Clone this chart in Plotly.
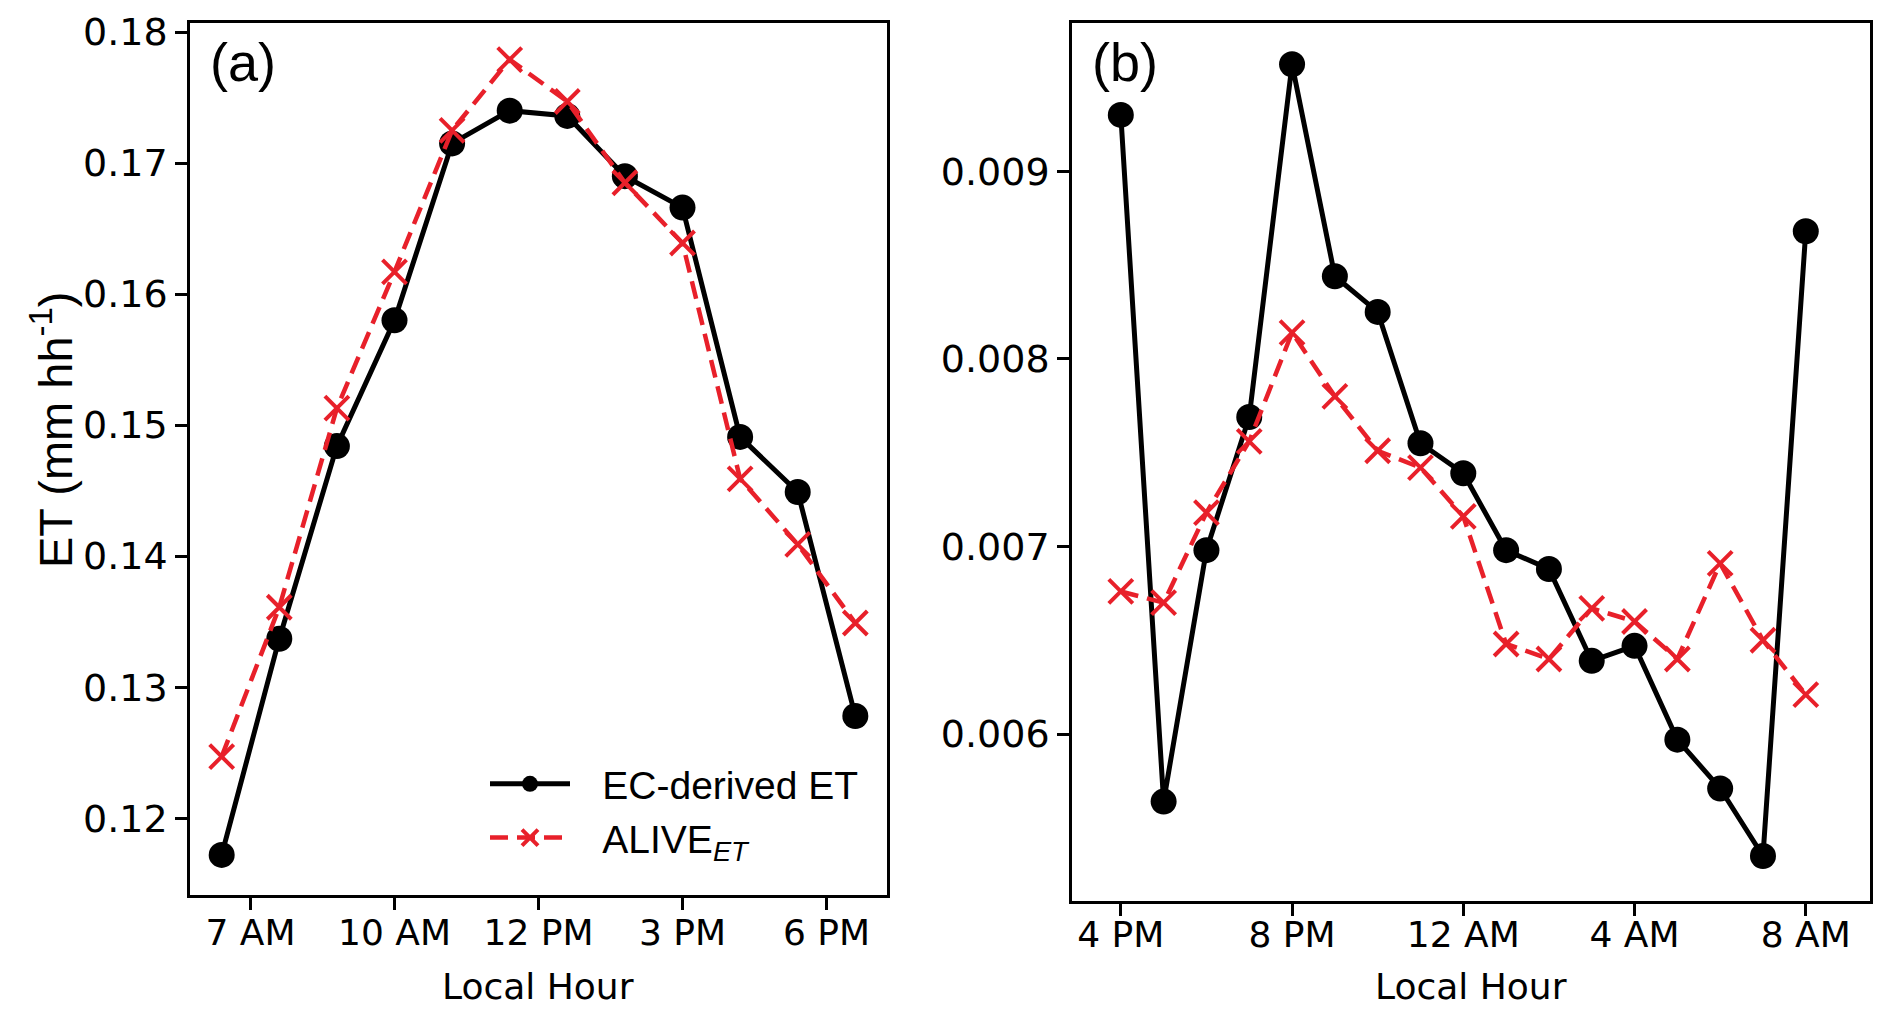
import plotly.graph_objects as go

# ---------------- data ----------------
# Panel (a): daytime
X_A = list(range(12))
EC_A = [0.1172, 0.1337, 0.1484, 0.1580, 0.1715, 0.1740, 0.1736, 0.1690, 0.1666, 0.1491, 0.1449, 0.1278]
ALIVE_A = [0.1247, 0.1361, 0.1513, 0.1617, 0.1725, 0.1779, 0.1747, 0.1685, 0.1639, 0.1459, 0.1409, 0.1349]
XTICK_A_POS = [0.5, 3, 5.5, 8, 10.5]
XTICK_A_TEXT = ["7 AM", "10 AM", "12 PM", "3 PM", "6 PM"]
YTICK_A = [0.12, 0.13, 0.14, 0.15, 0.16, 0.17, 0.18]

# Panel (b): night-time
X_B = list(range(17))
EC_B = [0.00930, 0.00564, 0.00698, 0.00769, 0.00957, 0.00844, 0.00825, 0.00755, 0.00739,
        0.00698, 0.00688, 0.00639, 0.00647, 0.00597, 0.00571, 0.00535, 0.00868]
ALIVE_B = [0.00676, 0.00670, 0.00718, 0.00756, 0.00814, 0.00780, 0.00751, 0.00742, 0.00716,
           0.00648, 0.00640, 0.00667, 0.00660, 0.00640, 0.00691, 0.00650, 0.00621]
XTICK_B_POS = [0, 4, 8, 12, 16]
XTICK_B_TEXT = ["4 PM", "8 PM", "12 AM", "4 AM", "8 AM"]
YTICK_B = [0.006, 0.007, 0.008, 0.009]

NAME_EC = "\u2002\u2009EC-derived ET"
NAME_ALIVE = "\u2002\u2009ALIVE<sub><i>ET</i></sub>"

# ---------------- style ----------------
W, H = 1892, 1020
BLACK = "#000000"
RED = "#e8202a"
TICK_FONT = "DejaVu Sans"
ARIAL = "Liberation Sans, Arial"


def px_x(p):
    return p / W


def px_y(p):
    return 1 - p / H


fig = go.Figure()

def add_pair(x, ec, alive, xa, ya, show):
    fig.add_trace(go.Scatter(
        x=x, y=ec, name=NAME_EC, mode="lines+markers", xaxis=xa, yaxis=ya,
        showlegend=show, legendrank=1,
        line=dict(color=BLACK, width=5),
        marker=dict(symbol="circle", size=26, color=BLACK),
    ))
    fig.add_trace(go.Scatter(
        x=x, y=alive, name=NAME_ALIVE, mode="lines+markers", xaxis=xa, yaxis=ya,
        showlegend=show, legendrank=2,
        line=dict(color=RED, width=4.5, dash="18px,9px"),
        marker=dict(symbol="x-thin", size=24, color=RED, line=dict(color=RED, width=4)),
    ))

add_pair(X_A, EC_A, ALIVE_A, "x", "y", True)
add_pair(X_B, EC_B, ALIVE_B, "x2", "y2", False)

axis_common = dict(
    showline=True, linecolor=BLACK, linewidth=2.5, mirror=True,
    showgrid=False, zeroline=False, ticks="outside", ticklen=12,
    tickwidth=2.5, tickcolor=BLACK, automargin=False,
)

fig.update_layout(
    width=W, height=H,
    margin=dict(l=0, r=0, t=0, b=0),
    paper_bgcolor="white", plot_bgcolor="white",
    xaxis=dict(domain=[px_x(190), px_x(887)], range=[-0.55, 11.55], anchor="y",
               tickvals=XTICK_A_POS, ticktext=XTICK_A_TEXT, ticklabelstandoff=-8,
               tickfont=dict(family=TICK_FONT, size=36, color=BLACK), **axis_common),
    yaxis=dict(domain=[px_y(895), px_y(23)], range=[0.11414, 0.18069], anchor="x",
               tickvals=YTICK_A, tickformat=".2f",
               tickfont=dict(family=TICK_FONT, size=38, color=BLACK), **axis_common),
    xaxis2=dict(domain=[px_x(1072), px_x(1870)], range=[-1.14, 17.5], anchor="y2",
                tickvals=XTICK_B_POS, ticktext=XTICK_B_TEXT, ticklabelstandoff=-12,
                tickfont=dict(family=TICK_FONT, size=36, color=BLACK), **axis_common),
    yaxis2=dict(domain=[px_y(901), px_y(23)], range=[0.00511, 0.00979], anchor="x2",
                tickvals=YTICK_B, tickformat=".3f",
                tickfont=dict(family=TICK_FONT, size=38, color=BLACK), **axis_common),
    legend=dict(
        x=px_x(485), y=px_y(752), xanchor="left", yanchor="top",
        bgcolor="rgba(0,0,0,0)", borderwidth=0,
        font=dict(family=ARIAL, size=39, color=BLACK),
        itemwidth=80, tracegroupgap=0,
    ),
    annotations=[
        dict(text="(a)", x=px_x(208), y=px_y(62), xref="paper", yref="paper",
             xanchor="left", yanchor="middle", showarrow=False,
             font=dict(family=ARIAL, size=54, color=BLACK)),
        dict(text="(b)", x=px_x(1090), y=px_y(62), xref="paper", yref="paper",
             xanchor="left", yanchor="middle", showarrow=False,
             font=dict(family=ARIAL, size=54, color=BLACK)),
        dict(text="ET (mm hh<sup>-1</sup>)", x=px_x(52), y=px_y(430),
             xref="paper", yref="paper", xanchor="center", yanchor="middle",
             textangle=-90, showarrow=False,
             font=dict(family=ARIAL, size=47, color=BLACK)),
        dict(text="Local Hour", x=px_x(538), y=px_y(986), xref="paper", yref="paper",
             xanchor="center", yanchor="middle", showarrow=False,
             font=dict(family=TICK_FONT, size=36, color=BLACK)),
        dict(text="Local Hour", x=px_x(1471), y=px_y(986), xref="paper", yref="paper",
             xanchor="center", yanchor="middle", showarrow=False,
             font=dict(family=TICK_FONT, size=36, color=BLACK)),
    ],
)

fig.write_html("out.html", config={"displayModeBar": False},
               post_script="document.body.style.margin='0';document.body.style.overflow='hidden';")
